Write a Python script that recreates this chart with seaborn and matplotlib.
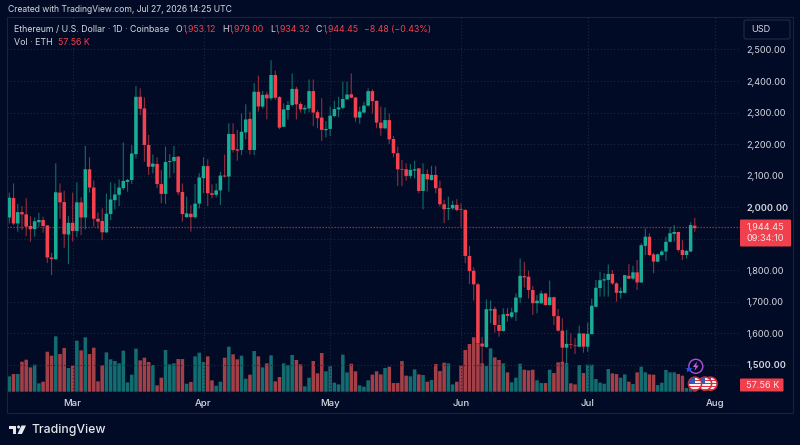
import numpy as np
import pandas as pd
import seaborn as sns
import matplotlib
matplotlib.use('Agg')
import matplotlib.pyplot as plt
import matplotlib.dates as mdates
from matplotlib.patches import Circle, FancyBboxPatch, Polygon, Rectangle

first_day = '2026-02-14'

opens = [1967, 2029, 1948, 1984, 1977, 1940, 1930, 1952, 1959, 1942,
         1840, 1835, 2046, 2016, 1913, 1950, 1924, 2015, 1967, 2120,
         2062, 1963, 1956, 1920, 1978, 2022, 2039, 2060, 2080, 2086,
         2168, 2350, 2313, 2197, 2128, 2137, 2073, 2042, 2143, 2146,
         2160, 2048, 1968, 1979, 1968, 2011, 2092, 2130, 2044, 2039,
         2053, 2100, 2097, 2232, 2183, 2181, 2237, 2280, 2181, 2366,
         2319, 2357, 2345, 2419, 2349, 2255, 2308, 2324, 2375, 2327,
         2310, 2313, 2368, 2301, 2284, 2244, 2248, 2289, 2310, 2315,
         2342, 2358, 2348, 2284, 2300, 2322, 2368, 2337, 2268, 2250,
         2276, 2216, 2171, 2121, 2120, 2099, 2116, 2123, 2051, 2105,
         2086, 2102, 2060, 2009, 1994, 1996, 2007, 1993, 1991, 1845,
         1798, 1755, 1567, 1556, 1672, 1677, 1626, 1607, 1661, 1652,
         1666, 1713, 1781, 1779, 1737, 1695, 1695, 1726, 1689, 1714,
         1654, 1608, 1554, 1565, 1561, 1557, 1599, 1557, 1597, 1684,
         1743, 1767, 1769, 1788, 1758, 1728, 1728, 1782, 1773, 1793,
         1761, 1877, 1906, 1850, 1827, 1848, 1859, 1890, 1915, 1921,
         1864, 1848, 1859, 1941]

closes = [2030, 1948, 1984, 1977, 1938, 1930, 1955, 1959, 1940, 1840,
          1835, 2047, 2015, 1914, 1950, 1924, 2015, 1967, 2120, 2062,
          1963, 1954, 1920, 1979, 2024, 2040, 2062, 2083, 2086, 2170,
          2350, 2312, 2197, 2128, 2138, 2073, 2042, 2143, 2146, 2159,
          2047, 1978, 1980, 1968, 2011, 2094, 2130, 2044, 2039, 2053,
          2100, 2097, 2232, 2181, 2179, 2239, 2278, 2181, 2366, 2319,
          2356, 2345, 2419, 2347, 2252, 2310, 2324, 2375, 2326, 2310,
          2315, 2368, 2300, 2282, 2245, 2248, 2290, 2311, 2316, 2343,
          2357, 2347, 2284, 2303, 2322, 2368, 2336, 2268, 2250, 2276,
          2215, 2171, 2120, 2119, 2099, 2118, 2120, 2051, 2105, 2088,
          2102, 2060, 2009, 1993, 1997, 2007, 1991, 1991, 1845, 1797,
          1755, 1567, 1558, 1676, 1676, 1626, 1607, 1660, 1655, 1666,
          1713, 1782, 1777, 1737, 1695, 1703, 1726, 1689, 1714, 1654,
          1608, 1554, 1566, 1563, 1559, 1599, 1557, 1598, 1687, 1744,
          1768, 1771, 1788, 1758, 1728, 1734, 1784, 1773, 1793, 1761,
          1879, 1906, 1848, 1827, 1850, 1859, 1890, 1917, 1921, 1864,
          1848, 1861, 1943, 1933]

highs = [2046, 2075, 2010, 2003, 2028, 1971, 1967, 1982, 1969, 1942,
         1855, 2139, 2075, 2052, 1971, 2046, 2079, 2031, 2194, 2158,
         2084, 1983, 1996, 2043, 2079, 2075, 2088, 2205, 2090, 2197,
         2384, 2377, 2348, 2229, 2167, 2158, 2118, 2192, 2168, 2194,
         2162, 2075, 2033, 2007, 2073, 2107, 2158, 2152, 2072, 2075,
         2112, 2167, 2266, 2266, 2245, 2297, 2326, 2303, 2393, 2417,
         2368, 2366, 2466, 2433, 2352, 2329, 2337, 2424, 2382, 2334,
         2324, 2405, 2405, 2308, 2345, 2273, 2319, 2338, 2350, 2398,
         2398, 2424, 2348, 2319, 2334, 2377, 2374, 2338, 2319, 2316,
         2297, 2226, 2192, 2150, 2139, 2137, 2147, 2123, 2139, 2120,
         2131, 2130, 2084, 2023, 2033, 2020, 2025, 2012, 1993, 1877,
         1809, 1760, 1588, 1707, 1704, 1684, 1658, 1679, 1679, 1681,
         1726, 1837, 1826, 1798, 1750, 1721, 1735, 1728, 1767, 1716,
         1677, 1647, 1610, 1599, 1584, 1624, 1599, 1634, 1710, 1769,
         1795, 1790, 1818, 1800, 1761, 1745, 1785, 1819, 1814, 1832,
         1885, 1933, 1917, 1855, 1853, 1864, 1906, 1936, 1943, 1922,
         1896, 1864, 1952, 1966]

lows = [1948, 1943, 1922, 1927, 1908, 1890, 1906, 1938, 1919, 1823,
        1784, 1832, 1963, 1871, 1819, 1891, 1905, 1911, 1929, 2046,
        1938, 1932, 1895, 1917, 1959, 1993, 2003, 2054, 2049, 2073,
        2154, 2292, 2144, 2102, 2107, 2060, 2012, 2010, 2093, 2107,
        2038, 1954, 1966, 1922, 1963, 1996, 2044, 2003, 2028, 2031,
        2007, 2094, 2049, 2173, 2147, 2165, 2215, 2167, 2165, 2303,
        2313, 2278, 2338, 2340, 2247, 2254, 2278, 2319, 2278, 2300,
        2297, 2300, 2257, 2250, 2210, 2221, 2226, 2285, 2285, 2310,
        2340, 2345, 2271, 2264, 2297, 2319, 2297, 2250, 2226, 2247,
        2200, 2158, 2067, 2067, 2084, 2091, 2091, 2044, 1993, 2049,
        2084, 2044, 2001, 1949, 1959, 1991, 1986, 1938, 1822, 1756,
        1703, 1503, 1503, 1553, 1631, 1602, 1589, 1605, 1637, 1647,
        1639, 1695, 1745, 1710, 1658, 1663, 1693, 1688, 1688, 1626,
        1605, 1504, 1504, 1550, 1534, 1556, 1538, 1541, 1596, 1681,
        1716, 1716, 1716, 1753, 1700, 1710, 1726, 1771, 1769, 1737,
        1760, 1848, 1845, 1790, 1825, 1846, 1830, 1888, 1890, 1859,
        1832, 1837, 1858, 1922]

volumes = [252, 290, 290, 492, 525, 399, 443, 137, 164, 656,
           591, 908, 618, 717, 388, 427, 837, 678, 892, 618,
           722, 170, 432, 645, 531, 503, 465, 673, 153, 279,
           706, 514, 558, 487, 438, 104, 230, 684, 449, 465,
           536, 536, 131, 159, 580, 640, 487, 580, 186, 98,
           164, 558, 738, 613, 531, 591, 213, 279, 667, 580,
           399, 465, 596, 170, 241, 465, 438, 602, 520, 449,
           88, 230, 503, 301, 635, 334, 416, 148, 120, 607,
           317, 459, 334, 104, 82, 186, 279, 334, 284, 388,
           410, 142, 142, 503, 263, 252, 366, 284, 274, 164,
           191, 454, 339, 476, 465, 120, 164, 427, 684, 782,
           892, 782, 465, 421, 711, 563, 520, 465, 317, 153,
           230, 459, 361, 350, 361, 186, 142, 142, 361, 306,
           481, 492, 470, 137, 120, 438, 306, 443, 443, 208,
           148, 131, 372, 301, 290, 230, 284, 164, 126, 317,
           410, 317, 284, 279, 109, 148, 356, 317, 317, 290,
           263, 60, 66, 57.56]

price_ticks = [1500, 1600, 1700, 1800, 1900, 2000, 2100, 2200, 2300, 2400, 2500]
last_close_on_scale = 1938

BG = '#010b25'
UP = '#1aad96'
DOWN = '#f5404e'
UP_VOL = '#136c6f'
DOWN_VOL = '#a33f47'
GRID = '#1d2840'
TEXT = '#d6d8e0'

sns.set_theme(style='dark', rc={'axes.facecolor': BG, 'figure.facecolor': BG})
plt.rcParams['font.family'] = ['Inter', 'DejaVu Sans']

df = pd.DataFrame({'date': pd.date_range(first_day, periods=len(opens)),
                   'open': opens, 'high': highs, 'low': lows, 'close': closes,
                   'volume': volumes})
df['num'] = mdates.date2num(df['date'])
df['dir'] = np.where(df['close'] >= df['open'], 'up', 'down')
candle_colors = df['dir'].map({'up': UP, 'down': DOWN})
start = df['num'].iloc[0]

fig = plt.figure(figsize=(8, 4.45), dpi=100)
ax = fig.add_axes([7 / 800, 1 - 391.7 / 445, 733 / 800, 374.7 / 445])
ax_vol = ax.twinx()
ax_vol.set_zorder(1)
ax.set_zorder(2)
ax.patch.set_visible(False)

sns.barplot(data=df, x='num', y='volume', hue='dir', hue_order=['up', 'down'],
            palette={'up': UP_VOL, 'down': DOWN_VOL}, native_scale=True, dodge=False,
            width=0.84, legend=False, saturation=1, linewidth=0, ax=ax_vol)
ax_vol.set_ylim(0, 6145)
ax_vol.set_xlabel('')
ax_vol.set_ylabel('')
ax_vol.yaxis.set_visible(False)
ax_vol.grid(False)
for bar in ax_vol.patches:
    bar.set_snap(False)

ax.axhline(last_close_on_scale, color='#c42b3e', lw=0.9, ls=(0, (1, 1.4)), zorder=1.5)
wicks = ax.vlines(df['num'], df['low'], df['high'], colors=candle_colors, lw=0.8, alpha=0.6, zorder=2)
wicks.set_snap(False)
bodies = ax.bar(df['num'], (df['close'] - df['open']).abs(), bottom=df[['open', 'close']].min(axis=1),
                width=0.84, color=candle_colors, linewidth=0, zorder=3)
for body in bodies:
    body.set_snap(False)

# the reference's time scale runs slightly tighter after 1 July
day_knots = start + np.array([-30, 137, 200])
scale_knots = np.array([-117.2, 587, 846.2])
ax.set_xscale('function', functions=(lambda d: np.interp(d, day_knots, scale_knots),
                                     lambda p: np.interp(p, scale_knots, day_knots)))
ax.set_xlim(start - 0.55, start + 173.98)
ax.set_ylim(1414.3, 2603.1)
ax.set_yticks(price_ticks)
ax.set_yticklabels([f'{p:,.2f}' for p in price_ticks])
ax.yaxis.tick_right()
ax.xaxis.set_major_locator(mdates.MonthLocator())
ax.xaxis.set_major_formatter(mdates.DateFormatter('%b'))
ax.xaxis.set_minor_locator(matplotlib.ticker.NullLocator())
ax.tick_params(axis='y', length=0, pad=4.6, labelsize=6.6, labelcolor=TEXT)
ax.tick_params(axis='x', length=0, pad=5, labelsize=6.9, labelcolor=TEXT, bottom=False)
ax.grid(True, color=GRID, lw=0.8, ls=(0, (1, 2)))
for lab in ax.get_xticklabels():
    lab.set_fontweight('medium')
for lab, p in zip(ax.get_yticklabels(), price_ticks):
    if p in (1500, 2000):
        lab.set_fontweight('semibold')
    if p == 1900:
        lab.set_visible(False)
for a in (ax, ax_vol):
    for s in a.spines.values():
        s.set_visible(False)

# everything outside the scales sits on a pixel overlay
ov = fig.add_axes([0, 0, 1, 1], zorder=5)
ov.set_xlim(0, 800)
ov.set_ylim(445, 0)
ov.axis('off')
ov.patch.set_visible(False)

ov.add_patch(Rectangle((7, 17), 786, 396, fill=False, ec='#182238', lw=0.8))
ov.text(8, 9, 'Created with TradingView.com, Jul 27, 2026 14:25 UTC', color=TEXT,
        fontsize=6.2, va='center')
ov.text(14, 29.5, 'Ethereum / U.S. Dollar · 1D · Coinbase', color=TEXT, fontsize=6.35, va='center')
for x, s, c in [(176, 'O', TEXT), (183, '1,953.12', DOWN), (222, 'H', TEXT), (229, '1,979.00', DOWN),
                (270, 'L', TEXT), (275, '1,934.32', DOWN), (316, 'C', TEXT), (323, '1,944.45', DOWN),
                (363.5, '−8.48 (−0.43%)', DOWN)]:
    ov.text(x, 29.5, s, color=c, fontsize=6.35, va='center')
ov.text(14, 42.5, 'Vol · ETH', color=TEXT, fontsize=6.35, va='center')
ov.text(58, 42.5, '57.56 K', color=DOWN, fontsize=6.35, va='center')

ov.add_patch(FancyBboxPatch((746, 22), 42, 15, boxstyle='round,pad=2', fc='none', ec='#1d2840', lw=0.9))
ov.text(751, 29.5, 'USD', color=TEXT, fontsize=6.6, va='center')

ov.add_patch(FancyBboxPatch((741, 220.5), 49, 25, boxstyle='round,pad=1', fc='#f0404d', ec='none'))
ov.text(746.5, 227, '1,944.45', color='#fbe4e6', fontsize=6.6, va='center')
ov.text(746.5, 238.7, '09:34:10', color='#fbe4e6', fontsize=6.6, va='center')
ov.add_patch(FancyBboxPatch((741, 379.5), 41.5, 11, boxstyle='round,pad=1', fc='#f0404d', ec='none'))
ov.text(746.5, 385, '57.56 K', color='#fbe4e6', fontsize=6.6, va='center')

# logo
ov.add_patch(Polygon([(8.5, 425.5), (16, 425.5), (16, 434), (12.5, 434), (12.5, 428.5), (8.5, 428.5)], fc='#e6e7ea', ec='none'))
ov.add_patch(Circle((18.6, 427), 1.5, fc='#e6e7ea', ec='none'))
ov.add_patch(Polygon([(21.5, 425.5), (26, 425.5), (22, 434), (17.5, 434)], fc='#e6e7ea', ec='none'))
ov.text(31, 430, 'TradingView', color='#e6e7ea', fontsize=8.8, fontweight='medium', va='center')

# event markers near the last candle
ov.add_patch(Circle((695.8, 366.3), 7, fc=BG, ec='#b14fd6', lw=1))
ov.add_patch(Polygon([(697, 361.5), (692.8, 367), (695.4, 367), (694.4, 371), (698.8, 365.5), (696.2, 365.5)],
                     fc='#c25fe0', ec='none'))
ov.plot([688.5], [369], marker='*', ms=6, color='#2f4fe0', mew=0)
for cx in (710.5, 705, 695):
    ring = Circle((cx, 383.7), 6.6, fc='#f3f3f5', ec='#d4283a', lw=1.1)
    ov.add_patch(ring)
    for sy in (379.5, 382.5, 385.5, 388.5):
        r = Rectangle((cx - 7, sy), 14, 1.3, fc='#d8313f', ec='none')
        ov.add_patch(r)
        r.set_clip_path(ring)
    c = Rectangle((cx - 7, 377), 7, 6.5, fc='#3558b0', ec='none')
    ov.add_patch(c)
    c.set_clip_path(ring)

fig.savefig('out.png', dpi=100, facecolor=BG)
